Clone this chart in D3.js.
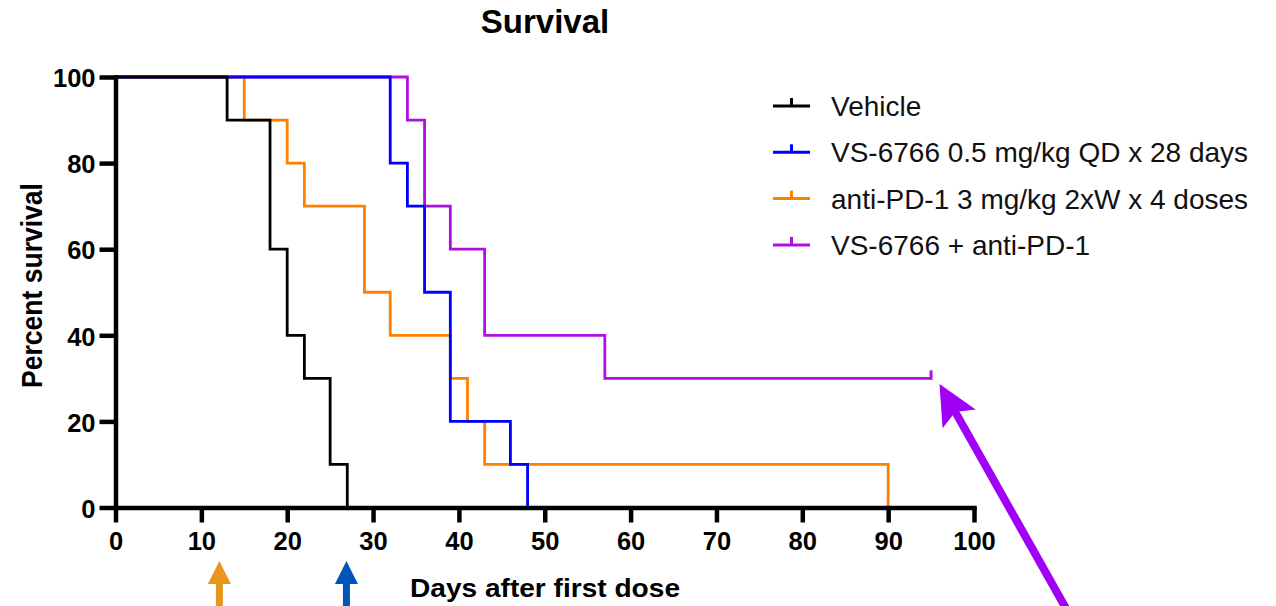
<!DOCTYPE html>
<html>
<head>
<meta charset="utf-8">
<script src="https://cdn.jsdelivr.net/npm/d3@7"></script>
<style>
  html, body { margin: 0; padding: 0; background: #fff; }
  svg { display: block; font-family: "Liberation Sans", Arial, Helvetica, sans-serif; }
</style>
</head>
<body>
<svg id="chart" width="1276" height="606"></svg>
<script>
// ---- data ----
const seriesNames = ["Vehicle", "VS-6766 0.5 mg/kg QD x 28 days", "anti-PD-1 3 mg/kg 2xW x 4 doses", "VS-6766 + anti-PD-1"];
const seriesColors = ["#000000", "#0000FF", "#FF8000", "#B00FE2"];
const vehicleDays = [0, 13, 18, 20, 22, 25, 27];
const vehicleSurv = [100, 90, 60, 40, 30, 10, 0];
const vs6766Days = [0, 32, 34, 36, 39, 46, 48];
const vs6766Surv = [100, 80, 70, 50, 20, 10, 0];
const antiPD1Days = [0, 15, 20, 22, 29, 32, 39, 41, 43, 90];
const antiPD1Surv = [100, 90, 80, 70, 50, 40, 30, 20, 10, 0];
const comboDays = [0, 34, 36, 39, 43, 57, 95];
const comboSurv = [100, 90, 70, 60, 40, 30, 30];
const comboCensoredDays = [95];
const comboCensoredSurv = [30];
const xTicks = [0, 10, 20, 30, 40, 50, 60, 70, 80, 90, 100];
const yTicks = [0, 20, 40, 60, 80, 100];
const doseArrowDays = [12.1, 26.9];
const doseArrowColors = ["#E8961E", "#0055BB"];

// ---- layout ----
const svg = d3.select("#chart");
const x = d3.scaleLinear().domain([0, 100]).range([115.5, 974]);
const y = d3.scaleLinear().domain([0, 100]).range([507.5, 77]);

const series = [
  { name: seriesNames[0], color: seriesColors[0], days: vehicleDays, surv: vehicleSurv },
  { name: seriesNames[1], color: seriesColors[1], days: vs6766Days, surv: vs6766Surv },
  { name: seriesNames[2], color: seriesColors[2], days: antiPD1Days, surv: antiPD1Surv },
  { name: seriesNames[3], color: seriesColors[3], days: comboDays, surv: comboSurv }
];

// Title
svg.append("text").attr("x", 545).attr("y", 33).attr("text-anchor", "middle")
  .attr("font-size", 33).attr("font-weight", "bold").text("Survival");

// Curves (draw order: combo, anti-PD-1, VS-6766, vehicle on top)
const line = d3.line().x(d => x(d[0])).y(d => y(d[1])).curve(d3.curveStepAfter);
const drawOrder = [3, 2, 1, 0];
drawOrder.forEach(i => {
  const s = series[i];
  const pts = s.days.map((d, k) => [d, s.surv[k]]);
  svg.append("path").attr("d", line(pts)).attr("fill", "none")
    .attr("stroke", s.color).attr("stroke-width", 2.8)
    .attr("stroke-linejoin", "miter").attr("stroke-linecap", "butt");
});
// censored tick
comboCensoredDays.forEach((d, k) => {
  svg.append("line").attr("x1", x(d)).attr("x2", x(d))
    .attr("y1", y(comboCensoredSurv[k]) + 1.4).attr("y2", y(comboCensoredSurv[k]) - 8)
    .attr("stroke", seriesColors[3]).attr("stroke-width", 3);
});

// Axes
const xAxis = svg.append("g").attr("transform", `translate(0,${y(0)})`)
  .call(d3.axisBottom(x).tickValues(xTicks).tickSize(15).tickSizeOuter(0).tickPadding(9));
const yAxis = svg.append("g").attr("transform", `translate(${x(0)},0)`)
  .call(d3.axisLeft(y).tickValues(yTicks).tickSize(16).tickSizeOuter(0).tickPadding(4));
[xAxis, yAxis].forEach(g => {
  g.select(".domain").attr("stroke", "#000").attr("stroke-width", 4.5).attr("stroke-linecap", "square");
  g.selectAll(".tick line").attr("stroke", "#000").attr("stroke-width", 4.5);
  g.selectAll(".tick text").attr("fill", "#000").attr("font-size", 25.5).attr("font-weight", "bold")
    .attr("font-family", "'Liberation Sans', Arial, sans-serif");
});
yAxis.selectAll(".tick text").attr("dy", "0.38em");
xAxis.selectAll(".tick text").attr("dy", "0.71em");

// Axis titles
svg.append("text").attr("x", 545).attr("y", 597).attr("text-anchor", "middle")
  .attr("font-size", 26).attr("font-weight", "bold")
  .attr("textLength", 270).attr("lengthAdjust", "spacingAndGlyphs")
  .text("Days after first dose");
svg.append("text").attr("transform", "translate(41.5,285.5) rotate(-90)")
  .attr("text-anchor", "middle").attr("font-size", 29).attr("font-weight", "bold")
  .attr("textLength", 205).attr("lengthAdjust", "spacingAndGlyphs")
  .text("Percent survival");

// Legend
const legend = svg.append("g");
series.forEach((s, i) => {
  const ly = 106 + i * 46.3;
  legend.append("line").attr("x1", 773).attr("x2", 810).attr("y1", ly).attr("y2", ly)
    .attr("stroke", s.color).attr("stroke-width", 3);
  legend.append("line").attr("x1", 791.5).attr("x2", 791.5).attr("y1", ly).attr("y2", ly - 8)
    .attr("stroke", s.color).attr("stroke-width", 3);
  legend.append("text").attr("x", 831).attr("y", ly + 10).attr("font-size", 28)
    .attr("fill", "#111").text(s.name);
});

// Dose arrows under x axis
doseArrowDays.forEach((d, i) => {
  const cx = x(d);
  const g = svg.append("g").attr("fill", doseArrowColors[i]);
  g.append("rect").attr("x", cx - 3.5).attr("y", 580).attr("width", 7).attr("height", 30);
  g.append("path").attr("d", `M${cx},561 L${cx - 11.5},584 L${cx + 11.5},584 Z`);
});

// Purple annotation arrow
(function () {
  const tip = [939.5, 384], tail = [1068, 612];
  const dx = tail[0] - tip[0], dy = tail[1] - tip[1];
  const len = Math.hypot(dx, dy), ux = dx / len, uy = dy / len;
  const headLen = 40, headHalf = 19;
  const bx = tip[0] + ux * headLen, by = tip[1] + uy * headLen;
  const px = -uy, py = ux;
  svg.append("line").attr("x1", tail[0]).attr("y1", tail[1])
    .attr("x2", tip[0] + ux * (headLen - 10)).attr("y2", tip[1] + uy * (headLen - 10))
    .attr("stroke", "#A000F5").attr("stroke-width", 8);
  svg.append("path")
    .attr("d", `M${tip[0]},${tip[1]} L${bx + px * headHalf},${by + py * headHalf} L${tip[0] + ux * (headLen - 8)},${tip[1] + uy * (headLen - 8)} L${bx - px * headHalf},${by - py * headHalf} Z`)
    .attr("fill", "#A000F5");
})();
</script>
</body>
</html>
